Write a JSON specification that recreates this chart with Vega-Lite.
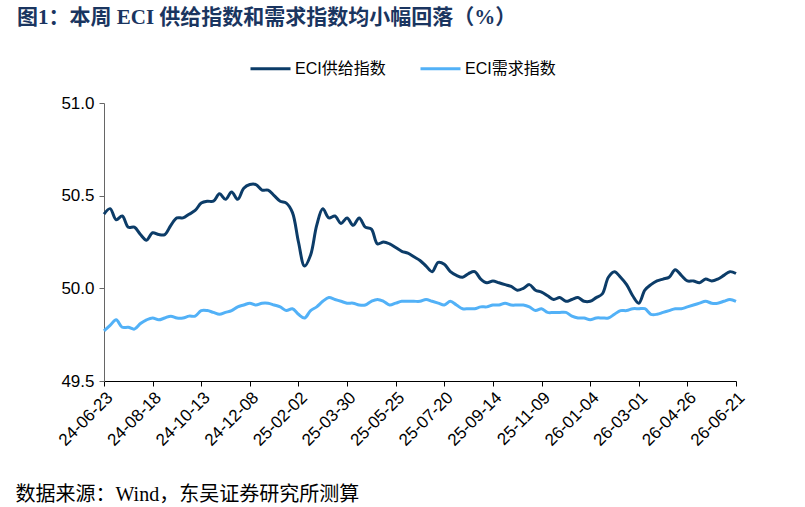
{
  "$schema": "https://vega.github.io/schema/vega-lite/v6.json",
  "width": 632,
  "height": 278,
  "autosize": {"type": "none"},
  "padding": {"left": 104, "top": 103, "right": 69, "bottom": 126},
  "background": "white",
  "title": {
    "text": "图1：本周 ECI 供给指数和需求指数均小幅回落（%）",
    "anchor": "start",
    "frame": "group",
    "dx": -87,
    "dy": -4,
    "font": "Liberation Serif, Noto Sans CJK SC",
    "fontSize": 21,
    "fontWeight": "bold",
    "color": "#1a3560",
    "baseline": "middle"
  },
  "config": {
    "view": {"stroke": null},
    "font": "Liberation Sans"
  },
  "data": {
    "values": [
      {"date": "2024-06-23", "ECI供给指数": 50.40, "ECI需求指数": 49.77},
      {"date": "2024-06-30", "ECI供给指数": 50.43, "ECI需求指数": 49.80},
      {"date": "2024-07-07", "ECI供给指数": 50.37, "ECI需求指数": 49.83},
      {"date": "2024-07-14", "ECI供给指数": 50.39, "ECI需求指数": 49.79},
      {"date": "2024-07-21", "ECI供给指数": 50.33, "ECI需求指数": 49.79},
      {"date": "2024-07-28", "ECI供给指数": 50.33, "ECI需求指数": 49.78},
      {"date": "2024-08-04", "ECI供给指数": 50.29, "ECI需求指数": 49.81},
      {"date": "2024-08-11", "ECI供给指数": 50.26, "ECI需求指数": 49.83},
      {"date": "2024-08-18", "ECI供给指数": 50.30, "ECI需求指数": 49.84},
      {"date": "2024-08-25", "ECI供给指数": 50.29, "ECI需求指数": 49.83},
      {"date": "2024-09-01", "ECI供给指数": 50.29, "ECI需求指数": 49.84},
      {"date": "2024-09-08", "ECI供给指数": 50.34, "ECI需求指数": 49.85},
      {"date": "2024-09-15", "ECI供给指数": 50.38, "ECI需求指数": 49.84},
      {"date": "2024-09-22", "ECI供给指数": 50.38, "ECI需求指数": 49.84},
      {"date": "2024-09-29", "ECI供给指数": 50.40, "ECI需求指数": 49.85},
      {"date": "2024-10-06", "ECI供给指数": 50.42, "ECI需求指数": 49.85},
      {"date": "2024-10-13", "ECI供给指数": 50.46, "ECI需求指数": 49.88},
      {"date": "2024-10-20", "ECI供给指数": 50.47, "ECI需求指数": 49.88},
      {"date": "2024-10-27", "ECI供给指数": 50.47, "ECI需求指数": 49.87},
      {"date": "2024-11-03", "ECI供给指数": 50.51, "ECI需求指数": 49.86},
      {"date": "2024-11-10", "ECI供给指数": 50.48, "ECI需求指数": 49.87},
      {"date": "2024-11-17", "ECI供给指数": 50.52, "ECI需求指数": 49.88},
      {"date": "2024-11-24", "ECI供给指数": 50.48, "ECI需求指数": 49.90},
      {"date": "2024-12-01", "ECI供给指数": 50.54, "ECI需求指数": 49.91},
      {"date": "2024-12-08", "ECI供给指数": 50.56, "ECI需求指数": 49.92},
      {"date": "2024-12-15", "ECI供给指数": 50.56, "ECI需求指数": 49.91},
      {"date": "2024-12-22", "ECI供给指数": 50.53, "ECI需求指数": 49.92},
      {"date": "2024-12-29", "ECI供给指数": 50.53, "ECI需求指数": 49.92},
      {"date": "2025-01-05", "ECI供给指数": 50.50, "ECI需求指数": 49.91},
      {"date": "2025-01-12", "ECI供给指数": 50.47, "ECI需求指数": 49.90},
      {"date": "2025-01-19", "ECI供给指数": 50.46, "ECI需求指数": 49.88},
      {"date": "2025-01-26", "ECI供给指数": 50.41, "ECI需求指数": 49.89},
      {"date": "2025-02-02", "ECI供给指数": 50.25, "ECI需求指数": 49.86},
      {"date": "2025-02-09", "ECI供给指数": 50.12, "ECI需求指数": 49.84},
      {"date": "2025-02-16", "ECI供给指数": 50.18, "ECI需求指数": 49.88},
      {"date": "2025-02-23", "ECI供给指数": 50.34, "ECI需求指数": 49.90},
      {"date": "2025-03-02", "ECI供给指数": 50.43, "ECI需求指数": 49.93},
      {"date": "2025-03-09", "ECI供给指数": 50.38, "ECI需求指数": 49.95},
      {"date": "2025-03-16", "ECI供给指数": 50.39, "ECI需求指数": 49.94},
      {"date": "2025-03-23", "ECI供给指数": 50.35, "ECI需求指数": 49.93},
      {"date": "2025-03-30", "ECI供给指数": 50.38, "ECI需求指数": 49.92},
      {"date": "2025-04-06", "ECI供给指数": 50.34, "ECI需求指数": 49.92},
      {"date": "2025-04-13", "ECI供给指数": 50.38, "ECI需求指数": 49.91},
      {"date": "2025-04-20", "ECI供给指数": 50.33, "ECI需求指数": 49.91},
      {"date": "2025-04-27", "ECI供给指数": 50.32, "ECI需求指数": 49.93},
      {"date": "2025-05-04", "ECI供给指数": 50.24, "ECI需求指数": 49.94},
      {"date": "2025-05-11", "ECI供给指数": 50.25, "ECI需求指数": 49.93},
      {"date": "2025-05-18", "ECI供给指数": 50.24, "ECI需求指数": 49.91},
      {"date": "2025-05-25", "ECI供给指数": 50.22, "ECI需求指数": 49.92},
      {"date": "2025-06-01", "ECI供给指数": 50.20, "ECI需求指数": 49.93},
      {"date": "2025-06-08", "ECI供给指数": 50.19, "ECI需求指数": 49.93},
      {"date": "2025-06-15", "ECI供给指数": 50.17, "ECI需求指数": 49.93},
      {"date": "2025-06-22", "ECI供给指数": 50.15, "ECI需求指数": 49.93},
      {"date": "2025-06-29", "ECI供给指数": 50.12, "ECI需求指数": 49.94},
      {"date": "2025-07-06", "ECI供给指数": 50.09, "ECI需求指数": 49.93},
      {"date": "2025-07-13", "ECI供给指数": 50.14, "ECI需求指数": 49.92},
      {"date": "2025-07-20", "ECI供给指数": 50.13, "ECI需求指数": 49.91},
      {"date": "2025-07-27", "ECI供给指数": 50.09, "ECI需求指数": 49.93},
      {"date": "2025-08-03", "ECI供给指数": 50.07, "ECI需求指数": 49.91},
      {"date": "2025-08-10", "ECI供给指数": 50.06, "ECI需求指数": 49.89},
      {"date": "2025-08-17", "ECI供给指数": 50.08, "ECI需求指数": 49.89},
      {"date": "2025-08-24", "ECI供给指数": 50.09, "ECI需求指数": 49.89},
      {"date": "2025-08-31", "ECI供给指数": 50.05, "ECI需求指数": 49.90},
      {"date": "2025-09-07", "ECI供给指数": 50.03, "ECI需求指数": 49.90},
      {"date": "2025-09-14", "ECI供给指数": 50.04, "ECI需求指数": 49.91},
      {"date": "2025-09-21", "ECI供给指数": 50.03, "ECI需求指数": 49.91},
      {"date": "2025-09-28", "ECI供给指数": 50.02, "ECI需求指数": 49.92},
      {"date": "2025-10-05", "ECI供给指数": 50.01, "ECI需求指数": 49.91},
      {"date": "2025-10-12", "ECI供给指数": 49.99, "ECI需求指数": 49.91},
      {"date": "2025-10-19", "ECI供给指数": 50.00, "ECI需求指数": 49.91},
      {"date": "2025-10-26", "ECI供给指数": 50.02, "ECI需求指数": 49.90},
      {"date": "2025-11-02", "ECI供给指数": 49.99, "ECI需求指数": 49.88},
      {"date": "2025-11-09", "ECI供给指数": 49.98, "ECI需求指数": 49.89},
      {"date": "2025-11-16", "ECI供给指数": 49.96, "ECI需求指数": 49.87},
      {"date": "2025-11-23", "ECI供给指数": 49.94, "ECI需求指数": 49.87},
      {"date": "2025-11-30", "ECI供给指数": 49.95, "ECI需求指数": 49.87},
      {"date": "2025-12-07", "ECI供给指数": 49.93, "ECI需求指数": 49.87},
      {"date": "2025-12-14", "ECI供给指数": 49.94, "ECI需求指数": 49.85},
      {"date": "2025-12-21", "ECI供给指数": 49.95, "ECI需求指数": 49.84},
      {"date": "2025-12-28", "ECI供给指数": 49.93, "ECI需求指数": 49.84},
      {"date": "2026-01-04", "ECI供给指数": 49.93, "ECI需求指数": 49.83},
      {"date": "2026-01-11", "ECI供给指数": 49.95, "ECI需求指数": 49.84},
      {"date": "2026-01-18", "ECI供给指数": 49.97, "ECI需求指数": 49.84},
      {"date": "2026-01-25", "ECI供给指数": 50.06, "ECI需求指数": 49.84},
      {"date": "2026-02-01", "ECI供给指数": 50.09, "ECI需求指数": 49.86},
      {"date": "2026-02-08", "ECI供给指数": 50.06, "ECI需求指数": 49.88},
      {"date": "2026-02-15", "ECI供给指数": 50.02, "ECI需求指数": 49.88},
      {"date": "2026-02-22", "ECI供给指数": 49.96, "ECI需求指数": 49.89},
      {"date": "2026-03-01", "ECI供给指数": 49.92, "ECI需求指数": 49.89},
      {"date": "2026-03-08", "ECI供给指数": 49.99, "ECI需求指数": 49.89},
      {"date": "2026-03-15", "ECI供给指数": 50.02, "ECI需求指数": 49.86},
      {"date": "2026-03-22", "ECI供给指数": 50.04, "ECI需求指数": 49.86},
      {"date": "2026-03-29", "ECI供给指数": 50.05, "ECI需求指数": 49.87},
      {"date": "2026-04-05", "ECI供给指数": 50.06, "ECI需求指数": 49.88},
      {"date": "2026-04-12", "ECI供给指数": 50.10, "ECI需求指数": 49.89},
      {"date": "2026-04-19", "ECI供给指数": 50.07, "ECI需求指数": 49.89},
      {"date": "2026-04-26", "ECI供给指数": 50.04, "ECI需求指数": 49.90},
      {"date": "2026-05-03", "ECI供给指数": 50.04, "ECI需求指数": 49.91},
      {"date": "2026-05-10", "ECI供给指数": 50.03, "ECI需求指数": 49.92},
      {"date": "2026-05-17", "ECI供给指数": 50.05, "ECI需求指数": 49.93},
      {"date": "2026-05-24", "ECI供给指数": 50.04, "ECI需求指数": 49.92},
      {"date": "2026-05-31", "ECI供给指数": 50.05, "ECI需求指数": 49.92},
      {"date": "2026-06-07", "ECI供给指数": 50.07, "ECI需求指数": 49.93},
      {"date": "2026-06-14", "ECI供给指数": 50.09, "ECI需求指数": 49.94},
      {"date": "2026-06-21", "ECI供给指数": 50.08, "ECI需求指数": 49.93}
    ]
  },
  "transform": [
    {"fold": ["ECI供给指数", "ECI需求指数"], "as": ["series", "value"]}
  ],
  "mark": {"type": "line", "strokeWidth": 3, "interpolate": "catmull-rom"},
  "encoding": {
    "x": {
      "field": "date",
      "type": "ordinal",
      "scale": {"type": "point", "padding": 0},
      "axis": {
        "values": ["2024-06-23", "2024-08-18", "2024-10-13", "2024-12-08", "2025-02-02", "2025-03-30", "2025-05-25", "2025-07-20", "2025-09-14", "2025-11-09", "2026-01-04", "2026-03-01", "2026-04-26", "2026-06-21"],
        "labelExpr": "substring(datum.label, 2)",
        "labelAngle": -45,
        "labelFont": "Liberation Sans",
        "labelFontSize": 17,
        "labelColor": "#000000",
        "labelPadding": 3,
        "tickSize": 5,
        "tickColor": "#000000",
        "domainColor": "#000000",
        "grid": false,
        "title": "数据来源：Wind，东吴证券研究所测算",
        "titleFont": "Liberation Serif, Noto Sans CJK SC",
        "titleFontSize": 20,
        "titleFontWeight": "normal",
        "titleColor": "#000000",
        "titleAnchor": "start",
        "titleAlign": "left",
        "titleBaseline": "middle",
        "titleAngle": 0,
        "titleX": -89,
        "titleY": 113
      }
    },
    "y": {
      "field": "value",
      "type": "quantitative",
      "scale": {"domain": [49.5, 51.0], "nice": false, "zero": false},
      "axis": {
        "values": [49.5, 50.0, 50.5, 51.0],
        "format": ".1f",
        "title": null,
        "grid": false,
        "labelFont": "Liberation Sans",
        "labelFontSize": 17,
        "labelColor": "#000000",
        "labelPadding": 5,
        "tickSize": 5,
        "tickColor": "#666666",
        "domainColor": "#666666"
      }
    },
    "color": {
      "field": "series",
      "type": "nominal",
      "scale": {"domain": ["ECI供给指数", "ECI需求指数"], "range": ["#0c3c68", "#52b1f7"]},
      "legend": {
        "title": null,
        "orient": "none",
        "direction": "horizontal",
        "legendX": 145,
        "legendY": -56,
        "symbolType": "stroke",
        "symbolSize": 1600,
        "symbolStrokeWidth": 3,
        "labelFont": "Liberation Sans, Noto Sans CJK SC",
        "labelFontSize": 16,
        "labelColor": "#000000",
        "labelOffset": 3,
        "columnPadding": 28,
        "padding": 0
      }
    }
  }
}
